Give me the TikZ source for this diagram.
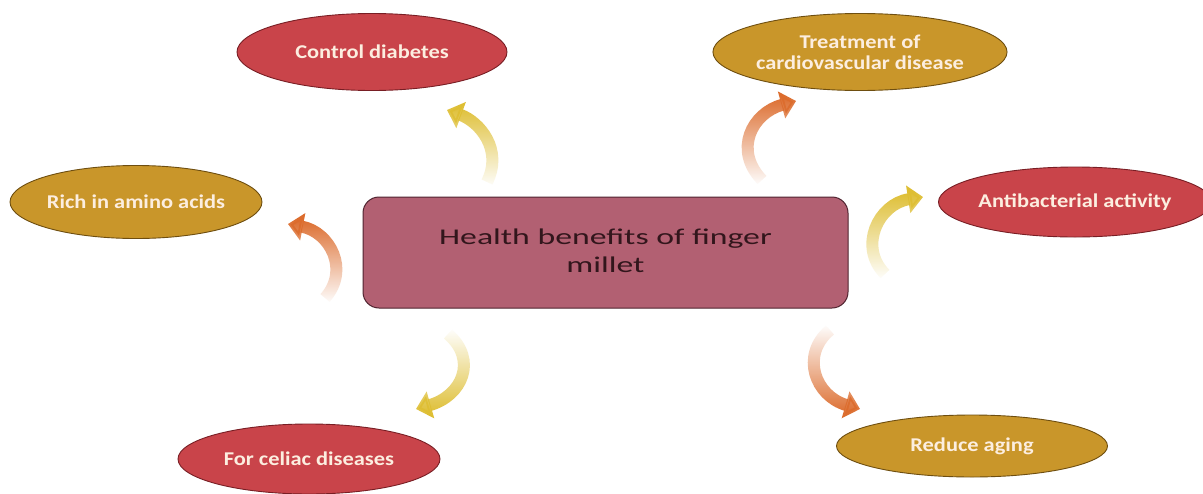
\documentclass[tikz,border=0pt]{standalone}
\usepackage{fontspec}
\setmainfont{Carlito}
\newfontfamily\ellfont{Carlito}[FakeStretch=1.15]
\newfontfamily\boxfont{Carlito}[FakeStretch=1.5]
\usetikzlibrary{shapes.geometric,arrows.meta,fadings}
\definecolor{redfill}{RGB}{201,68,74}
\definecolor{redline}{RGB}{120,30,36}
\definecolor{goldfill}{RGB}{201,150,42}
\definecolor{goldline}{RGB}{110,78,16}
\definecolor{boxfill}{RGB}{178,96,114}
\definecolor{boxline}{RGB}{80,36,48}
\definecolor{boxtext}{RGB}{50,22,28}
\definecolor{cream}{RGB}{252,238,224}
\definecolor{orangearrow}{RGB}{220,108,45}
\definecolor{yellowarrow}{RGB}{222,190,50}
\begin{document}
\begin{tikzpicture}[x=1pt,y=-1pt,
  benefit/.style={ellipse, line width=0.9pt, inner sep=0pt, text=cream, align=center,
    font=\ellfont\bfseries\fontsize{19.5}{21}\selectfont},
  redell/.style={benefit, fill=redfill, draw=redline},
  goldell/.style={benefit, fill=goldfill, draw=goldline},
  centerbox/.style={rectangle, rounded corners=16pt, fill=boxfill, draw=boxline, line width=1pt,
    text=boxtext, align=center, font=\boxfont\fontsize{22.5}{28}\selectfont},
  flow/.style={line width=12pt, -{Triangle[width=27pt,length=15pt]}},
]
\useasboundingbox (0,0) rectangle (1203,493);
\clip (0,0) rectangle (1203,493);
\fill[white] (0,0) rectangle (1203,493);

% nodes
\node[centerbox, minimum width=485pt, minimum height=111pt] (c) at (605.5,252.5) {\raisebox{-4pt}{\begin{tabular}{@{}c@{}}Health benefits of finger\\millet\end{tabular}}};
\node[redell, minimum width=270pt, minimum height=77pt] (cd) at (372,52) {Control diabetes};
\node[goldell, minimum width=270pt, minimum height=77pt] (tc) at (860,52) {Treatment of\\cardiovascular disease};
\node[goldell, minimum width=248pt, minimum height=73pt] (ra) at (136,202) {Rich in amino acids};
\node[redell, minimum width=266pt, minimum height=70pt] (ab) at (1075,202) {Antibacterial activity};
\node[redell, minimum width=262pt, minimum height=70pt] (ce) at (309,459) {For celiac diseases};
\node[goldell, minimum width=271pt, minimum height=62pt] (rg) at (972,446) {Reduce aging};

% arrow ends
\coordinate (t1) at (487,182); \coordinate (h1) at (447,110);
\coordinate (t2) at (762,180); \coordinate (h2) at (796,101);
\coordinate (t3) at (325,298); \coordinate (h3) at (288,224);
\coordinate (t4) at (885,274); \coordinate (h4) at (923,197);
\coordinate (t5) at (448,334); \coordinate (h5) at (416,409);
\coordinate (t6) at (830,330); \coordinate (h6) at (860,409);

\draw[flow, yellowarrow, path fading=south] (t1) .. controls (503,150) and (480,122) .. (h1);
\draw[flow, orangearrow, path fading=south] (t2) .. controls (733,150) and (752,113) .. (h2);
\draw[flow, orangearrow, path fading=south] (t3) .. controls (350,270) and (330,232) .. (h3);
\draw[flow, yellowarrow, path fading=south] (t4) .. controls (858,247) and (878,204) .. (h4);
\draw[flow, yellowarrow, path fading=north] (t5) .. controls (478,360) and (462,396) .. (h5);
\draw[flow, orangearrow, path fading=north] (t6) .. controls (800,355) and (815,396) .. (h6);
\end{tikzpicture}
\end{document}
